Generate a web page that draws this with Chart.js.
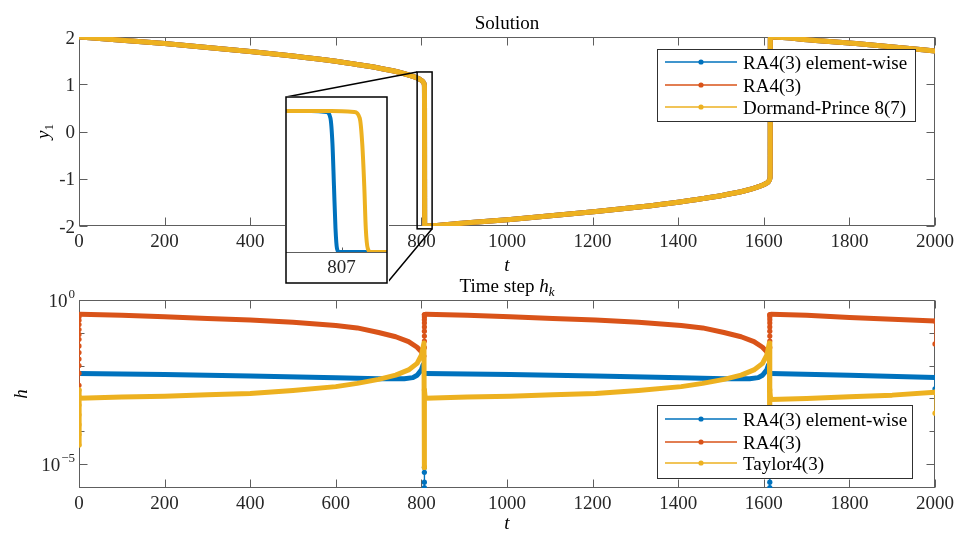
<!DOCTYPE html>
<html><head><meta charset="utf-8">
<script src="https://cdn.jsdelivr.net/npm/chart.js@4/dist/chart.umd.min.js"></script>
<style>
html,body{margin:0;padding:0;background:#fff;}
#wrap{position:relative;width:961px;height:533px;overflow:hidden;background:#fff;}
canvas{position:absolute;left:0;top:0;}
</style></head><body>
<div id="wrap">
<canvas id="bot" width="961" height="533" style="width:961px;height:533px"></canvas>
<canvas id="top" width="961" height="533" style="width:961px;height:533px"></canvas>
<canvas id="inset" width="104" height="189" style="left:285px;top:96px;width:104px;height:189px"></canvas>
</div>
<script>
// ---------------- data ----------------
const xTickValues = [0,200,400,600,800,1000,1200,1400,1600,1800,2000];
const yTicksSolution = [-2,-1,0,1,2];
const yTicksStep = [1e-5,1e-4,1e-3,1e-2,1e-1,1];
const yLabeledStep = [1,1e-5];
const insetTicks = [807];

const legendSolution = ['RA4(3) element-wise','RA4(3)','Dormand-Prince 8(7)'];
const legendStep = ['RA4(3) element-wise','RA4(3)','Taylor4(3)'];

// Solution y1(t) (all three methods coincide at this scale)
const tSolution = [0,100,200,300,400,500,600,650,700,750,780,795,803,806,807.0,807.3,807.45,807.6,808,
  908,1008,1108,1208,1308,1408,1458,1508,1558,1588,1603,1611,1613.6,1614.6,1614.9,1615.05,1615.2,1615.6,
  1715,1815,1915,2000];
const ySolution = [2.0,1.932,1.86,1.78,1.693,1.597,1.485,1.418,1.343,1.249,1.168,1.11,1.06,1.02,0.98,0.5,-1.0,-1.95,-2.0,
  -1.932,-1.86,-1.78,-1.693,-1.597,-1.485,-1.418,-1.343,-1.249,-1.168,-1.11,-1.06,-1.02,-0.98,-0.5,1.0,1.95,2.0,
  1.932,1.86,1.78,1.705];

// Inset around t = 807
const tInsetEW = [805.9,806.4,806.7,806.78,806.82,806.85,806.88,806.91,806.95,807.2,807.9];
const yInsetEW = [1.0,1.0,0.98,0.85,0.3,-0.6,-1.5,-1.93,-2.0,-2.0,-2.0];
const tInsetDP = [805.9,806.8,807.25,807.36,807.41,807.45,807.48,807.52,807.58,807.9];
const yInsetDP = [1.0,1.0,0.98,0.85,0.3,-0.6,-1.5,-1.93,-2.0,-2.0];
const insetRangeT = [805.9,807.9];
const insetRangeY = [-2,1.3];
const zoomWindowT = [790,825];
const zoomWindowY = [-2.06,1.26];

// Time steps h_k
const tStepEW = [0,200,400,600,700,760,780,790,800,804,806,807,807,807,807,
  809,1007,1207,1407,1507,1567,1587,1597,1607,1611,1613,1614,1614,1614,1614,
  1616,1800,2000,2000];
const hStepEW = [5.75e-3,5.37e-3,4.79e-3,4.27e-3,3.98e-3,4.0e-3,4.3e-3,5.1e-3,7.4e-3,0.0105,0.0132,7.9e-6,5.6e-6,2.8e-6,1.9e-6,
  5.75e-3,5.37e-3,4.79e-3,4.27e-3,3.98e-3,4.0e-3,4.3e-3,5.1e-3,7.4e-3,0.0105,0.0132,7.9e-6,5.6e-6,2.8e-6,1.9e-6,
  5.75e-3,5.1e-3,4.37e-3,1.95e-3];

const tStepRA = [0,0,0,0,0,0,0,0,0,0,0,0,0,
  3,100,200,300,400,500,600,650,700,740,770,790,800,806,
  807,807,807,807,807,807,807,807,807,807,
  810,907,1007,1107,1207,1307,1407,1457,1507,1547,1577,1597,1607,1613,
  1614,1614,1614,1614,1614,1614,1614,1614,1614,1614,
  1617,1700,1800,1900,2000,2000];
const hStepRA = [2.5e-3,5.89e-3,0.01,0.0158,0.0251,0.0398,0.0631,0.0891,0.126,0.178,0.240,0.302,0.347,
  0.37,0.34,0.31,0.275,0.245,0.209,0.166,0.141,0.102,0.0759,0.0537,0.0363,0.0263,0.0195,
  0.0355,0.0562,0.0794,0.112,0.151,0.2,0.251,0.302,0.347,0.36,
  0.37,0.34,0.31,0.275,0.245,0.209,0.166,0.141,0.102,0.0759,0.0537,0.0363,0.0263,0.0195,
  0.0355,0.0562,0.0794,0.112,0.151,0.2,0.251,0.302,0.347,0.36,
  0.37,0.345,0.295,0.26,0.229,0.0457];

const tStepTaylor = [0,0,0,0,0,0,0,
  2,100,200,300,400,500,600,650,700,740,770,790,800,803,806,
  807,807,
  809,907,1007,1107,1207,1307,1407,1457,1507,1547,1577,1597,1607,1610,1613,
  1614,1614,
  1616,1700,1800,1900,2000,2000];
const hStepTaylor = [3.8e-5,7.9e-5,1.58e-4,3.16e-4,6.3e-4,1.12e-3,1.82e-3,
  1.02e-3,1.1e-3,1.17e-3,1.29e-3,1.41e-3,1.74e-3,2.29e-3,2.88e-3,3.8e-3,5.13e-3,7.4e-3,0.0117,0.0209,0.0316,0.049,
  7.9e-6,1.82e-3,
  1.02e-3,1.1e-3,1.17e-3,1.29e-3,1.41e-3,1.74e-3,2.29e-3,2.88e-3,3.8e-3,5.13e-3,7.4e-3,0.0117,0.0209,0.0316,0.049,
  7.9e-6,1.82e-3,
  9.3e-4,1.0e-3,1.12e-3,1.26e-3,1.55e-3,3.55e-4];

// ---------------- style ----------------
const BLUE='#0072BD', ORANGE='#D95319', YELLOW='#EDB120';
const TEXT='#262626', AXIS='#5e5e5e';
const FAM='"Liberation Serif","Times New Roman",serif';
const F_TICK='19px '+FAM, F_IT='italic 19px '+FAM, F_SMALL='13px '+FAM, F_SMALL_IT='italic 13px '+FAM;
const COLORS=[BLUE,ORANGE,YELLOW];

function pts(t,v){return t.map((x,i)=>({x:x,y:v[i]}));}
function isColumnPoint(data,i){
  const p=data[i],a=data[i-1],b=data[i+1];
  return (a&&Math.abs(a.x-p.x)<0.5)||(b&&Math.abs(b.x-p.x)<0.5);
}
function drawRich(ctx,parts,x,y,align){
  let w=0;parts.forEach(p=>{ctx.font=p.font;p.w=ctx.measureText(p.s).width;w+=p.w;});
  let cx = align==='center'? x-w/2 : (align==='right'? x-w : x);
  ctx.textAlign='left';ctx.textBaseline='alphabetic';
  parts.forEach(p=>{ctx.font=p.font;ctx.fillText(p.s,cx,y+(p.dy||0));cx+=p.w;});
}
function drawFrame(chart,xTicks,yTicks,tickLen){
  const {ctx,chartArea:a,scales:{x,y}}=chart;
  ctx.save();
  ctx.strokeStyle=AXIS;ctx.lineWidth=1;
  const L=Math.round(a.left)+0.5,R=Math.round(a.right)-0.5,T=Math.round(a.top)+0.5,B=Math.round(a.bottom)-0.5;
  ctx.strokeRect(L,T,R-L,B-T);
  ctx.beginPath();
  xTicks.forEach(v=>{const px=Math.round(x.getPixelForValue(v))+0.5;
    ctx.moveTo(px,B);ctx.lineTo(px,B-8);ctx.moveTo(px,T);ctx.lineTo(px,T+8);});
  yTicks.forEach(v=>{const py=Math.round(y.getPixelForValue(v))+0.5;const l=tickLen(v);
    ctx.moveTo(L,py);ctx.lineTo(L+l,py);ctx.moveTo(R,py);ctx.lineTo(R-l,py);});
  ctx.stroke();
  ctx.fillStyle=TEXT;ctx.font=F_TICK;ctx.textAlign='center';ctx.textBaseline='alphabetic';
  xTicks.forEach(v=>ctx.fillText(String(v),x.getPixelForValue(v),a.bottom+21));
  ctx.restore();
}
function drawLegend(chart,labels,box){
  const ctx=chart.ctx;
  ctx.save();
  ctx.fillStyle='#fff';ctx.fillRect(box.x,box.y,box.w,box.h);
  ctx.strokeStyle='#303030';ctx.lineWidth=1;ctx.strokeRect(box.x+0.5,box.y+0.5,box.w,box.h);
  labels.forEach((lab,i)=>{
    const yy=box.y+box.rows[i];
    ctx.strokeStyle=COLORS[i];ctx.lineWidth=1.3;
    ctx.beginPath();ctx.moveTo(box.x+8,yy);ctx.lineTo(box.x+80,yy);ctx.stroke();
    ctx.fillStyle=COLORS[i];ctx.beginPath();ctx.arc(box.x+44,yy,2.6,0,Math.PI*2);ctx.fill();
    ctx.fillStyle='#000';
    drawRich(ctx,[{s:lab,font:F_TICK}],box.x+86,yy+6.5,'left');
  });
  ctx.restore();
}

const baseOpts = {
  responsive:false, animation:false, events:[],
  plugins:{legend:{display:false},tooltip:{enabled:false},title:{display:false}},
};

// ---------------- top chart ----------------
const insetBox = {left:286, top:97, right:387, bottom:283};
const topDecor = {
  id:'topDecor',
  beforeDatasetsDraw(chart){
    const {ctx,chartArea:a,scales:{y}}=chart;
    drawFrame(chart,xTickValues,yTicksSolution,()=>8);
    ctx.save();ctx.fillStyle=TEXT;ctx.font=F_TICK;ctx.textAlign='right';ctx.textBaseline='alphabetic';
    yTicksSolution.forEach(v=>ctx.fillText(String(v),a.left-4,y.getPixelForValue(v)+6.5));
    ctx.fillStyle='#000';
    drawRich(ctx,[{s:'Solution',font:F_TICK}],(a.left+a.right)/2,29,'center');
    drawRich(ctx,[{s:'t',font:F_IT}],(a.left+a.right)/2,271,'center');
    ctx.translate(49,(a.top+a.bottom)/2);ctx.rotate(-Math.PI/2);
    drawRich(ctx,[{s:'y',font:F_IT},{s:'1',font:F_SMALL,dy:4}],0,0,'center');
    ctx.restore();
  },
  afterDatasetsDraw(chart){
    const {ctx,scales:{x,y}}=chart;
    const x0=x.getPixelForValue(zoomWindowT[0]),x1=x.getPixelForValue(zoomWindowT[1]);
    const y0=y.getPixelForValue(zoomWindowY[1]),y1=y.getPixelForValue(zoomWindowY[0]);
    ctx.save();ctx.strokeStyle='#000';ctx.lineWidth=1.5;
    ctx.strokeRect(x0,y0,x1-x0,y1-y0);
    ctx.beginPath();
    ctx.moveTo(insetBox.left,insetBox.top);ctx.lineTo(x0,y0);
    ctx.moveTo(insetBox.right,insetBox.bottom);ctx.lineTo(x1,y1);
    ctx.stroke();ctx.restore();
    drawLegend(chart,legendSolution,{x:657,y:49,w:258,h:72,rows:[13,36,58]});
  }
};
new Chart(document.getElementById('top'),{
  type:'line',
  data:{datasets:[
    {label:legendSolution[0],data:pts(tSolution,ySolution),borderColor:BLUE,order:3},
    {label:legendSolution[1],data:pts(tSolution,ySolution),borderColor:ORANGE,order:2},
    {label:legendSolution[2],data:pts(tSolution,ySolution),borderColor:YELLOW,order:1}
  ]},
  options:Object.assign({},baseOpts,{
    layout:{padding:{left:79,right:26,top:37,bottom:307}},
    scales:{x:{type:'linear',display:false,min:0,max:2000},y:{type:'linear',display:false,min:-2,max:2}},
    elements:{line:{borderWidth:5,cubicInterpolationMode:'monotone',borderCapStyle:'round',borderJoinStyle:'round',fill:false},point:{radius:0}}
  }),
  plugins:[topDecor]
});

// ---------------- inset ----------------
const insetDecor = {
  id:'insetDecor',
  beforeDraw(chart){const c=chart.ctx;c.save();c.fillStyle='#fff';c.fillRect(0,0,chart.width,chart.height);c.restore();},
  beforeDatasetsDraw(chart){
    const {ctx,chartArea:a,scales:{x}}=chart;
    ctx.save();ctx.strokeStyle=AXIS;ctx.lineWidth=1;
    const B=Math.round(a.bottom)+0.5;
    ctx.beginPath();ctx.moveTo(a.left,B);ctx.lineTo(a.right,B);
    insetTicks.forEach(v=>{const px=Math.round(x.getPixelForValue(v))+0.5;ctx.moveTo(px,B);ctx.lineTo(px,B-5);});
    ctx.stroke();
    ctx.fillStyle=TEXT;
    insetTicks.forEach(v=>drawRich(ctx,[{s:String(v),font:F_TICK}],x.getPixelForValue(v),a.bottom+21,'center'));
    ctx.restore();
  },
  afterDraw(chart){
    const c=chart.ctx;c.save();c.strokeStyle='#000';c.lineWidth=1.5;c.strokeRect(1,1,101,186);c.restore();
  }
};
new Chart(document.getElementById('inset'),{
  type:'line',
  data:{datasets:[
    {data:pts(tInsetEW,yInsetEW),borderColor:BLUE,order:2},
    {data:pts(tInsetDP,yInsetDP),borderColor:YELLOW,order:1}
  ]},
  options:Object.assign({},baseOpts,{
    layout:{padding:{left:1,right:2,top:1,bottom:33}},
    scales:{x:{type:'linear',display:false,min:insetRangeT[0],max:insetRangeT[1]},
            y:{type:'linear',display:false,min:insetRangeY[0],max:insetRangeY[1]}},
    elements:{line:{borderWidth:4,cubicInterpolationMode:'monotone',borderCapStyle:'butt',borderJoinStyle:'round',fill:false},point:{radius:0}}
  }),
  plugins:[insetDecor]
});

// ---------------- bottom chart ----------------
const botDecor = {
  id:'botDecor',
  beforeDatasetsDraw(chart){
    const {ctx,chartArea:a,scales:{y}}=chart;
    drawFrame(chart,xTickValues,yTicksStep,v=>yLabeledStep.includes(v)?8:5);
    ctx.save();ctx.fillStyle=TEXT;ctx.textBaseline='alphabetic';ctx.textAlign='right';
    yLabeledStep.forEach(v=>{
      const py=y.getPixelForValue(v);
      const e=String(Math.round(Math.log10(v))).replace('-','\u2212');
      ctx.font=F_SMALL;const ew=ctx.measureText(e).width;
      ctx.fillText(e,a.left-4,py-2.5);
      ctx.font=F_TICK;ctx.fillText('10',a.left-5-ew,py+6.5);
    });
    ctx.fillStyle='#000';
    drawRich(ctx,[{s:'Time step ',font:F_TICK},{s:'h',font:F_IT},{s:'k',font:F_SMALL_IT,dy:4}],(a.left+a.right)/2,292,'center');
    drawRich(ctx,[{s:'t',font:F_IT}],(a.left+a.right)/2,529,'center');
    ctx.translate(27,(a.top+a.bottom)/2);ctx.rotate(-Math.PI/2);
    drawRich(ctx,[{s:'h',font:F_IT}],0,0,'center');
    ctx.restore();
  },
  afterDatasetsDraw(chart){
    drawLegend(chart,legendStep,{x:657,y:405,w:255,h:73,rows:[14,37,58]});
  }
};
function stepDataset(label,t,h,color,order,thickColumn){
  return {
    label:label,data:pts(t,h),borderColor:color,backgroundColor:color,order:order,
    borderWidth:5,tension:0,
    pointRadius:ctx=>isColumnPoint(ctx.dataset.data,ctx.dataIndex)?2.6:0,
    pointBorderWidth:0,pointBackgroundColor:color,
    segment:{borderWidth:ctx=>{
      const vertical=Math.abs(ctx.p1.x-ctx.p0.x)<1.5;
      if(!vertical) return 5;
      if(thickColumn && ctx.p0.parsed.x<2000) return 5;
      return 1.3;
    }}
  };
}
new Chart(document.getElementById('bot'),{
  type:'line',
  data:{datasets:[
    stepDataset(legendStep[0],tStepEW,hStepEW,BLUE,3,false),
    stepDataset(legendStep[1],tStepRA,hStepRA,ORANGE,2,false),
    stepDataset(legendStep[2],tStepTaylor,hStepTaylor,YELLOW,1,true)
  ]},
  options:Object.assign({},baseOpts,{
    layout:{padding:{left:79,right:26,top:300,bottom:45}},
    scales:{x:{type:'linear',display:false,min:0,max:2000},y:{type:'logarithmic',display:false,min:1.86e-6,max:1}},
    elements:{line:{borderCapStyle:'round',borderJoinStyle:'round',fill:false}}
  }),
  plugins:[botDecor]
});
</script>
</body></html>
